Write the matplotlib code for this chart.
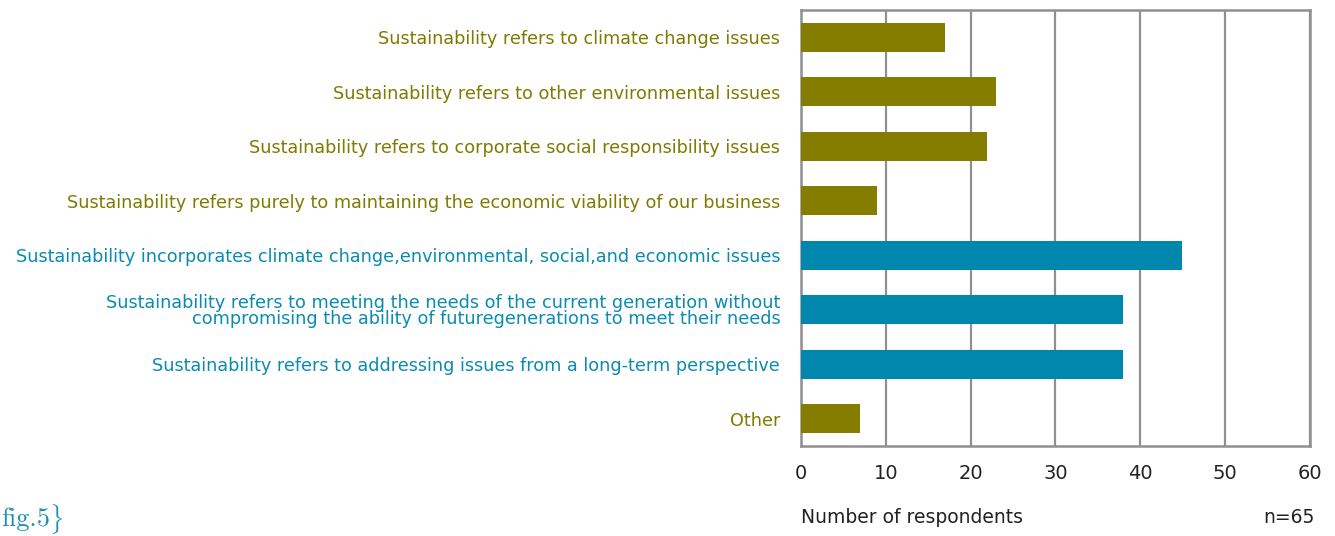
import matplotlib.pyplot as plt

plt.rcParams["font.family"] = ["DejaVu Sans"]
plt.rcParams["mathtext.fontset"] = "cm"

# survey responses: what sustainability means to respondents
labels = [
    "Sustainability refers to climate change issues",
    "Sustainability refers to other environmental issues",
    "Sustainability refers to corporate social responsibility issues",
    "Sustainability refers purely to maintaining the economic viability of our business",
    "Sustainability incorporates climate change,environmental, social,and economic issues",
    "Sustainability refers to meeting the needs of the current generation without\n"
    "compromising the ability of futuregenerations to meet their needs",
    "Sustainability refers to addressing issues from a long-term perspective",
    "Other",
]
counts = [17, 23, 22, 9, 45, 38, 38, 7]
groups = ["narrow", "narrow", "narrow", "narrow", "broad", "broad", "broad", "narrow"]
xticks = [0, 10, 20, 30, 40, 50, 60]

OLIVE = "#857d00"
TEAL = "#0087ad"
GRID = "#909094"
bar_colors = {"narrow": OLIVE, "broad": TEAL}
text_colors = {"narrow": "#807a00", "broad": "#0a8cb0"}

fig = plt.figure(figsize=(13.35, 5.36), dpi=100)
ax = fig.add_axes([0.600, 0.168, 0.381, 0.813])

ypos = list(range(len(labels)))
ax.barh(ypos, counts, height=0.53, color=[bar_colors[g] for g in groups], zorder=3)

ax.set_xlim(0, 60)
ax.set_ylim(len(labels) - 0.5, -0.5)
ax.set_xticks(xticks)
ax.set_xticklabels([str(t) for t in xticks], fontsize=14, color="#222222")
ax.set_yticks(ypos)
ax.set_yticklabels(labels, fontsize=12.7, linespacing=0.85)
for lab, g in zip(ax.get_yticklabels(), groups):
    lab.set_color(text_colors[g])
ax.tick_params(axis="both", length=0)
ax.tick_params(axis="y", pad=15)
ax.tick_params(axis="x", pad=13)

ax.grid(axis="x", color=GRID, linewidth=1.6, zorder=1)
for s in ax.spines.values():
    s.set_color(GRID)
    s.set_linewidth(1.8)

fig.text(0.600, 0.025, "Number of respondents", fontsize=13.5, color="#222222")
fig.text(0.985, 0.025, "n=65", fontsize=13.5, color="#222222", ha="right")

fig.text(0.001, 0.018, "fig.5", fontsize=19, color="#1f8fb0", family="cmr10")
fig.text(0.037, 0.014, r"$\}$", fontsize=18, color="#1f8fb0")

fig.savefig("out.png", dpi=100)
